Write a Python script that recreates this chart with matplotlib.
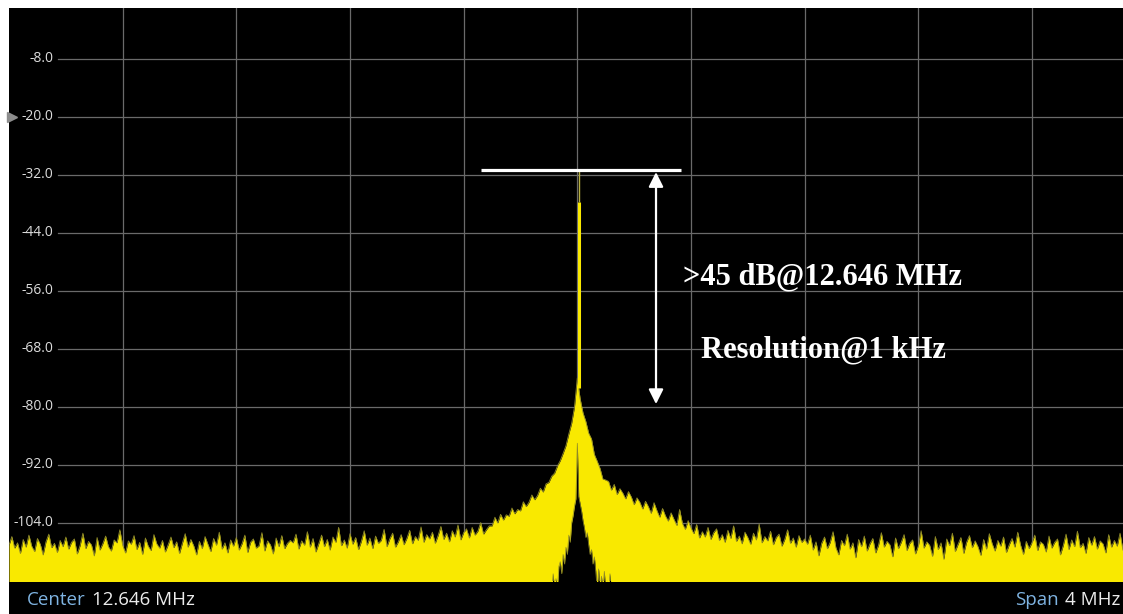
import numpy as np
import matplotlib.pyplot as plt
from matplotlib.patches import Rectangle
from matplotlib.transforms import blended_transform_factory

W, H = 1123, 614

center_mhz = 12.646
span_mhz = 4.0
bin_mhz = 0.01

# trace maximum per 10 kHz bin (dBm), offsets -2.00 .. +1.92 MHz from center
noise_left = [
    -108.6, -106.8, -109.2, -108.1, -110.3, -107.4, -109.0, -106.5, -108.8, -109.9,
    -107.2, -108.4, -110.6, -107.9, -106.3, -109.1, -108.2, -110.1, -107.6, -108.9,
    -106.9, -109.4, -108.0, -107.3, -110.4, -108.7, -106.1, -109.3, -107.8, -108.5,
    -110.8, -107.0, -109.6, -108.3, -106.7, -108.9, -109.8, -107.5, -108.1, -105.4,
    -108.6, -110.2, -107.7, -108.4, -106.6, -109.5, -108.0, -110.5, -107.1, -108.8,
    -109.7, -106.4, -108.3, -109.2, -107.6, -110.0, -108.5, -106.9, -109.1, -107.9,
    -110.3, -108.2, -106.2, -109.0, -107.4, -108.7, -110.6, -107.8, -109.3, -106.8,
    -108.4, -109.9, -107.2, -108.6, -105.9, -109.4, -108.1, -110.2, -107.5, -108.8,
    -107.0, -109.6, -108.3, -106.5, -110.1, -108.0, -107.3, -109.2, -108.7, -106.0,
    -109.8, -107.7, -108.5, -110.4, -107.1, -108.9, -106.6, -109.3, -108.2, -107.6,
    -108.1, -106.3, -109.4, -107.7, -108.6, -105.8, -109.0, -107.2, -110.0, -108.3,
    -106.5, -108.9, -107.4, -109.6, -106.9, -108.0, -104.9, -108.7, -107.5, -109.2,
    -106.2, -108.4, -107.0, -109.5, -107.8, -105.6, -108.6, -107.1, -109.3, -106.7,
    -108.2, -107.6, -105.3, -108.9, -107.3, -106.1, -109.0, -107.9, -106.4, -108.5,
]
skirt_left = [
    -107.2, -105.5, -108.3, -106.8, -107.6, -104.8, -108.0, -106.4, -107.3, -105.9,
    -108.2, -106.6, -104.7, -107.4, -106.1, -107.9, -105.6, -106.9, -104.4, -107.5,
    -106.0, -105.2, -107.1, -104.9, -106.5, -105.7, -103.9, -106.3, -105.4, -104.6,
    -104.6, -102.8, -104.0, -102.2, -103.4, -102.3, -102.6, -100.9, -102.1, -101.2,
    -101.5, -99.6, -100.6, -99.7, -98.2, -99.2, -98.3, -96.8, -97.6, -95.9,
    -95.6, -94.3, -93.7, -92.2, -91.1, -89.6, -88.0, -85.6, -83.4, -80.0,
]
carrier_bin = [-74.0]
skirt_right = [
    -78.3, -81.2, -83.0, -85.4, -86.6, -89.8, -91.2, -92.7, -94.9, -95.1,
    -95.4, -97.2, -96.0, -98.1, -96.9, -97.8, -99.0, -97.5, -98.6, -100.2,
    -98.8, -99.7, -101.1, -99.5, -100.6, -102.0, -99.8, -101.4, -102.8, -101.0,
    -102.5, -103.6, -101.9, -103.2, -104.5, -101.2, -104.1, -105.3, -103.5, -105.0,
]
noise_right = [
    -106.2, -104.3, -107.1, -105.8, -106.9, -104.9, -107.4, -106.0, -105.2, -107.6,
    -106.4, -108.0, -105.5, -107.2, -104.6, -107.8, -106.7, -108.3, -105.9, -107.0,
    -108.4, -106.1, -107.5, -104.2, -108.1, -106.8, -107.7, -105.7, -108.5, -107.0,
    -106.3, -108.8, -107.4, -105.4, -108.2, -107.1, -109.0, -106.6, -108.0, -107.3,
    -108.4, -106.5, -109.6, -107.9, -110.8, -108.2, -106.9, -109.3, -108.0, -105.8,
    -109.1, -110.6, -107.6, -108.7, -106.3, -109.4, -108.1, -111.2, -107.4, -108.9,
    -106.7, -109.8, -108.3, -107.2, -110.2, -108.6, -106.0, -109.0, -107.8, -108.5,
    -111.0, -107.1, -109.3, -108.0, -106.4, -109.7, -108.2, -107.5, -110.4, -108.8,
    -105.6, -109.2, -107.9, -108.6, -110.9, -106.8, -109.5, -108.1, -111.5, -107.3,
    -108.7, -106.1, -109.9, -108.4, -107.0, -110.3, -108.0, -106.6, -109.1, -107.7,
    -108.9, -110.7, -107.4, -109.4, -106.2, -108.3, -109.8, -107.6, -108.8, -106.9,
    -110.1, -108.5, -107.2, -109.0, -105.9, -108.6, -110.5, -107.8, -109.3, -108.1,
    -106.5, -109.7, -107.9, -108.4, -110.0, -106.7, -109.2, -108.0, -107.3, -110.6,
    -108.7, -106.3, -109.5, -107.5, -108.9, -105.7, -109.1, -108.2, -110.3, -107.0,
    -108.6, -106.8, -109.4, -107.7, -108.3, -110.2, -106.4, -109.0, -107.6, -108.8,
    -106.1, -109.6,
]

# trace minimum close to the carrier (5 kHz steps, -0.090 .. +0.130 MHz)
hole_start_mhz = -0.090
hole_level = [
    -118.0, -114.5, -118.0, -115.5, -118.0, -113.0, -112.0, -114.5, -110.5, -112.5,
    -109.0, -110.5, -106.5, -108.0, -104.0, -102.5, -100.5, -99.0, -87.5, -98.5,
    -100.0, -101.5, -103.5, -105.0, -107.0, -106.0, -108.5, -110.5, -109.5, -112.5,
    -111.0, -114.0, -118.0, -113.5, -118.0, -115.0, -118.0, -114.0, -118.0, -116.0,
    -118.0, -114.5, -118.0, -118.0, -118.0,
]

carrier_offset_mhz = 0.006
carrier_top = -31.0
carrier_bright_top = -37.6
carrier_base = -76.0

ytick_values = [-8.0, -20.0, -32.0, -44.0, -56.0, -68.0, -80.0, -92.0, -104.0]
ref_level = -20.0

note_main = '>45 dB@12.646 MHz'
note_res = 'Resolution@1 kHz'

trace = np.array(noise_left + skirt_left + carrier_bin + skirt_right + noise_right)
offsets = np.arange(len(trace)) * bin_mhz - 2.0
freq = center_mhz + offsets
hole_freq = center_mhz + hole_start_mhz + np.arange(len(hole_level)) * 0.005

yellow = '#f9e900'
olive = '#8f8a2a'
gridc = '#6a6a6a'

fig = plt.figure(figsize=(W / 100, H / 100), dpi=100, facecolor='white')
fig.patches.append(Rectangle((9 / W, 0), 1, 606 / H, transform=fig.transFigure,
                             facecolor='black', edgecolor='none', zorder=-5))
ax = fig.add_axes([9 / W, 33 / H, 1114 / W, 573 / H])
ax.set_zorder(2)
ax.set_facecolor('black')

x0 = center_mhz - span_mhz / 2
ax.set_xlim(x0, x0 + span_mhz * 1114 / 1136.6)
ax.set_ylim(-116.0, 2.55)

# grid
for k in range(1, 10):
    ax.axvline(x0 + k * span_mhz / 10, color=gridc, lw=0.9, zorder=1)
for y in ytick_values:
    ax.axhline(y, xmin=0.044, color=gridc, lw=0.9, zorder=1)

# spectrum
ax.fill_between(freq, -120, trace, color=yellow, lw=0, zorder=2)
ax.plot(freq, trace, color=olive, lw=0.6, zorder=3)
ax.fill_between(hole_freq, -120, hole_level, color='black', lw=0, zorder=4)
ax.plot(hole_freq, hole_level, color=olive, lw=0.5, zorder=4)
cf = center_mhz + carrier_offset_mhz
ax.vlines(cf, carrier_base, carrier_bright_top, color=yellow, lw=2.2, zorder=5)
ax.vlines(cf, carrier_bright_top, carrier_top, color='#b8b040', lw=1.0, zorder=5)

# y labels inside the screen
bt = blended_transform_factory(ax.transAxes, ax.transData)
for y in ytick_values:
    ax.text(0.0395, y, f'{y:.1f}', transform=bt, ha='right', va='center',
            color='#dcdcdc', fontsize=10, family='Open Sans', zorder=6)
ax.plot([0.003], [ref_level], marker='>', ms=7, color='#8c8c8c', transform=bt,
        clip_on=False, zorder=6)

# annotation
ax.hlines(carrier_top, center_mhz - 0.340, center_mhz + 0.365, color='white', lw=2.3, zorder=7)
ax.annotate('', xy=(center_mhz + 0.277, carrier_top - 0.4), xytext=(center_mhz + 0.277, -79.4),
            arrowprops=dict(arrowstyle='<|-|>', color='white', lw=1.6, mutation_scale=22,
                            shrinkA=0, shrinkB=0), zorder=7)
ax.text(center_mhz + 0.372, -54.55, note_main, color='white', fontsize=22,
        fontweight='bold', family='Liberation Serif', va='baseline', zorder=7)
ax.text(center_mhz + 0.435, -69.7, note_res, color='white', fontsize=22,
        fontweight='bold', family='Liberation Serif', va='baseline', zorder=7)

ax.set_xticks([])
ax.set_yticks([])
for s in ax.spines.values():
    s.set_visible(False)

# bottom status bar
ty = 1 - 600 / H
fig.text(27 / W, ty, 'Center', color='#7fb4e2', fontsize=13.5, family='Open Sans', va='center')
fig.text(92 / W, ty, f'{center_mhz:.3f} MHz', color='#ececec', fontsize=13.5,
         family='Open Sans', va='center')
fig.text(1120 / W, ty, f'{span_mhz:.0f} MHz', color='#ececec', fontsize=13.5,
         family='Open Sans', va='center', ha='right')
fig.text(1059 / W, ty, 'Span', color='#7fb4e2', fontsize=13.5, family='Open Sans',
         va='center', ha='right')

fig.savefig('out.png', dpi=100, facecolor='white')
